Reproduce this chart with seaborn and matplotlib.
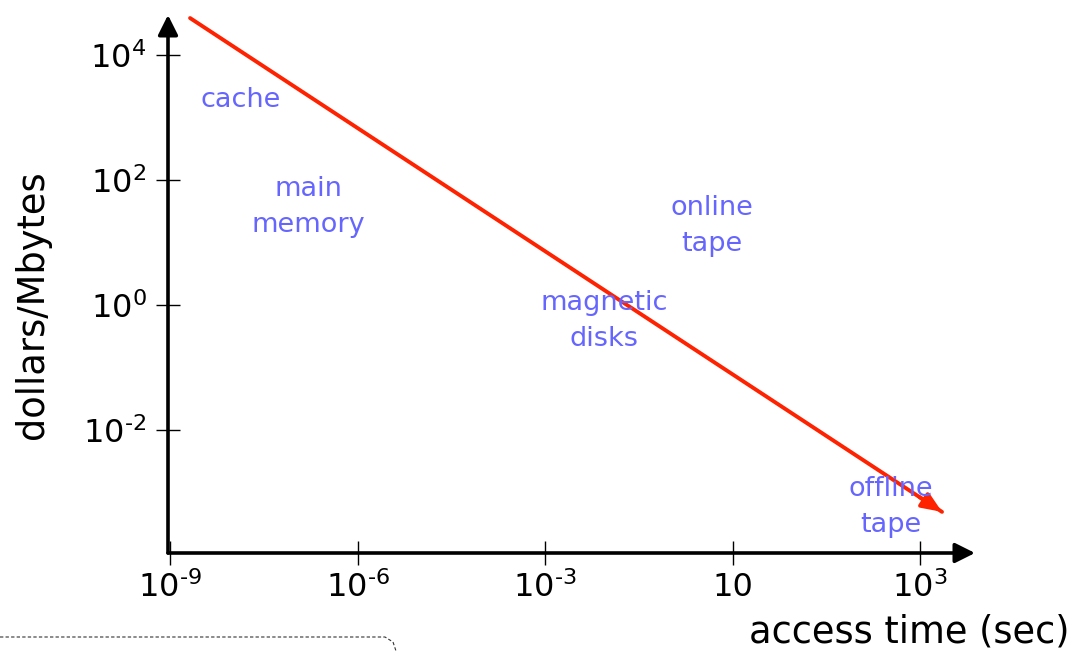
import matplotlib
matplotlib.use("Agg")
import matplotlib.pyplot as plt
from matplotlib.lines import Line2D
import seaborn as sns
import pandas as pd

# ---- data ----
x_tick_pos = [0, 1, 2, 3, 4]
x_tick_labels = ["$10^{\u2010" + "9}$", "$10^{\u2010" + "6}$", "$10^{\u2010" + "3}$", "10", r"$10^{3}$"]
y_tick_vals = [1e4, 1e2, 1e0, 1e-2]
y_tick_labels = [r"$10^{4}$", r"$10^{2}$", r"$10^{0}$", "$10^{\u2010" + "2}$"]

trend_x = [0.107, 4.117]
trend_y = [3.9e4, 4.9e-4]

region_names = ["cache", "main\nmemory", "online\ntape", "magnetic\ndisks", "offline\ntape"]
region_x = [0.379, 0.736, 2.89, 2.315, 3.845]
region_y = [1.9e3, 37.0, 18.4, 0.555, 5.9e-4]

x_label = "access time (sec)"
y_label = "dollars/Mbytes"

# ---- style ----
sns.set_theme(style="white")
plt.rcParams["font.family"] = ["DejaVu Sans"]
plt.rcParams["mathtext.fontset"] = "dejavusans"

fig = plt.figure(figsize=(10.74, 6.51), dpi=100)
ax = fig.add_axes([168 / 1074, (651 - 553) / 651, 807 / 1074, 538 / 651])
ax.set_yscale("log")
ax.set_xlim(-0.0107, 4.293)
ax.set_ylim(10 ** -3.968, 10 ** 4.64)

for s in ax.spines.values():
    s.set_visible(False)

# axes with arrows
akw = dict(arrowstyle="-|>,head_length=0.6,head_width=0.3", color="black",
           lw=2.6, mutation_scale=20, shrinkA=0, shrinkB=0)
ax.annotate("", xy=(0, 1), xytext=(0, 0), xycoords="axes fraction",
            textcoords="axes fraction", arrowprops=akw, annotation_clip=False)
ax.annotate("", xy=(1, 0), xytext=(0, 0), xycoords="axes fraction",
            textcoords="axes fraction", arrowprops=akw, annotation_clip=False)

# trend line
red = "#ff2200"
df = pd.DataFrame({"x": trend_x, "y": trend_y})
sns.lineplot(data=df, x="x", y="y", ax=ax, color=red, lw=2.8)
ax.annotate("", xy=(trend_x[1], trend_y[1]),
            xytext=(trend_x[1] - 0.12, trend_y[1] * 10 ** (0.12 * 1.97)),
            arrowprops=dict(arrowstyle="-|>,head_length=0.6,head_width=0.25",
                            color=red, lw=2.8, mutation_scale=20,
                            shrinkA=0, shrinkB=0), annotation_clip=False)

# region labels
for name, xx, yy in zip(region_names, region_x, region_y):
    ax.text(xx, yy, name, color="#6666ff", fontsize=19.5, ha="center",
            va="center", linespacing=1.5)

# ticks
ax.set_xticks(x_tick_pos)
ax.set_xticklabels(x_tick_labels)
ax.set_yticks(y_tick_vals)
ax.set_yticklabels(y_tick_labels)
ax.minorticks_off()
ax.tick_params(axis="both", direction="inout", length=17, width=1.0,
               colors="black", labelsize=23, bottom=True, left=True,
               labelcolor="black")
ax.tick_params(axis="y", pad=7)
ax.tick_params(axis="x", pad=5)
ax.set_xlabel("")
ax.set_ylabel("")

fig.text(909 / 1074, 1 - 632 / 651, x_label, fontsize=26.5, ha="center",
         va="center", color="black")
fig.text(33 / 1074, 1 - 305 / 651, y_label, fontsize=26.5, ha="center",
         va="center", rotation=90, color="black")

# dashed box fragment
fig.add_artist(Line2D([0, 385 / 1074, 393 / 1074, 396 / 1074],
                      [1 - 637 / 651, 1 - 637 / 651, 1 - 642 / 651, 1 - 651 / 651],
                      transform=fig.transFigure, color="#333333", lw=0.8,
                      dashes=(3, 2)))

fig.savefig("out.png", dpi=100)
